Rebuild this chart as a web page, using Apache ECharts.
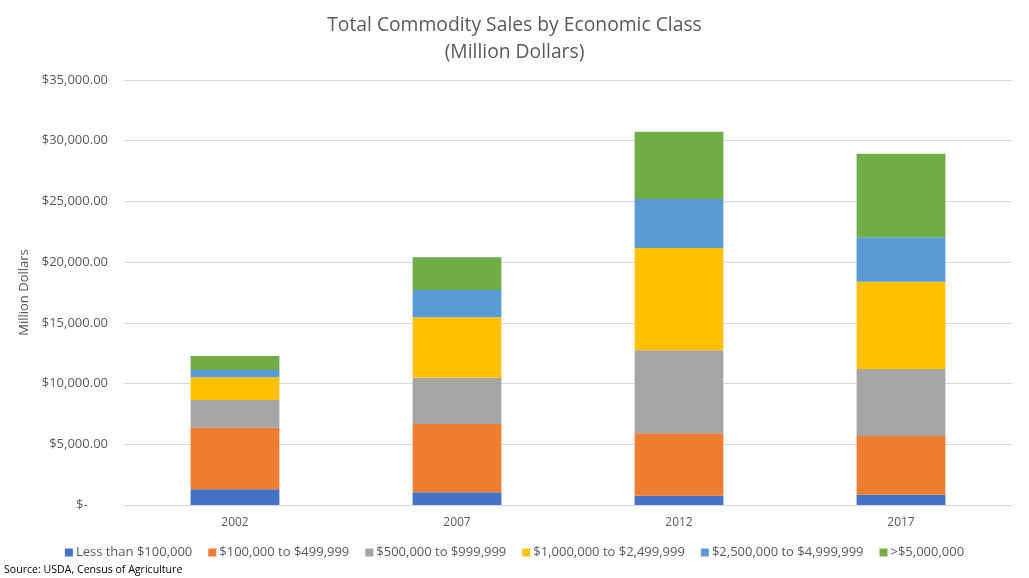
<!DOCTYPE html>
<html>
<head>
<meta charset="utf-8">
<script src="https://cdn.jsdelivr.net/npm/echarts@6/dist/echarts.min.js"></script>
<style>html,body{margin:0;padding:0;background:#fff;}#c{width:1029px;height:578px;}</style>
</head>
<body>
<div id="c"></div>
<script>
var years = ['2002', '2007', '2012', '2017'];
var seriesNames = ['Less than $100,000', '$100,000 to $499,999', '$500,000 to $999,999', '$1,000,000 to $2,499,999', '$2,500,000 to $4,999,999', '>$5,000,000'];
var lessThan100k = [1290, 1046, 766, 848];
var from100kTo500k = [5073, 5625, 5139, 4834];
var from500kTo1m = [2281, 3813, 6835, 5518];
var from1mTo2_5m = [1869, 4974, 8425, 7189];
var from2_5mTo5m = [601, 2248, 4035, 3656];
var over5m = [1153, 2693, 5542, 6885];
var yTicks = {min: 0, max: 35000, interval: 5000};
var colors = ['#4472C4', '#ED7D31', '#A5A5A5', '#FFC000', '#5B9BD5', '#70AD47'];

var allData = [lessThan100k, from100kTo500k, from500kTo1m, from1mTo2_5m, from2_5mTo5m, over5m];
var FONT = 'Open Sans';
var chart = echarts.init(document.getElementById('c'));
chart.setOption({
  animation: false,
  color: colors,
  title: {
    text: 'Total Commodity Sales by Economic Class\n(Million Dollars)',
    left: 'center', top: 7,
    textStyle: {fontFamily: FONT, fontSize: 19.3, fontWeight: 'normal', color: '#595959', lineHeight: 27}
  },
  graphic: [{
    type: 'text', left: 4, top: 564,
    style: {text: 'Source: USDA, Census of Agriculture', font: '10.6px "Open Sans"', fill: '#000'}
  }],
  legend: {
    bottom: 14, left: 'center', itemWidth: 8, itemHeight: 8, itemGap: 16,
    icon: 'rect',
    textStyle: {fontFamily: FONT, fontSize: 13, color: '#595959', padding: [0, 0, 0, -2]},
    data: seriesNames
  },
  grid: {left: 124, right: 17, top: 80, bottom: 73, containLabel: false},
  xAxis: {
    type: 'category', data: years,
    axisLine: {lineStyle: {color: '#d9d9d9'}},
    axisTick: {show: false},
    axisLabel: {fontFamily: FONT, fontSize: 12, color: '#595959', margin: 12}
  },
  yAxis: {
    type: 'value', min: yTicks.min, max: yTicks.max, interval: yTicks.interval,
    name: 'Million Dollars', nameLocation: 'middle', nameGap: 88,
    nameTextStyle: {fontFamily: FONT, fontSize: 13, color: '#595959'},
    axisLine: {show: false}, axisTick: {show: false},
    splitLine: {lineStyle: {color: '#d9d9d9', width: 1}},
    axisLabel: {
      fontFamily: FONT, fontSize: 13, color: '#595959', margin: 16,
      formatter: function (v) {
        if (v === 0) return '$-      ';
        return '$' + v.toLocaleString('en-US', {minimumFractionDigits: 2, maximumFractionDigits: 2});
      }
    }
  },
  series: seriesNames.map(function (n, i) {
    return {name: n, type: 'bar', stack: 'total', barWidth: '40%', data: allData[i]};
  })
});
</script>
</body>
</html>
